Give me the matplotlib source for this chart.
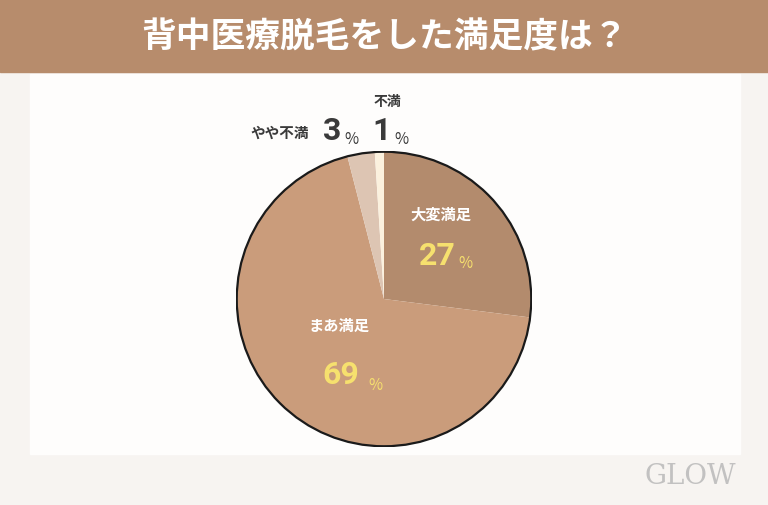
import matplotlib.pyplot as plt
from matplotlib.patches import Rectangle, Circle

plt.rcParams['font.family'] = ['Noto Sans CJK JP', 'DejaVu Sans']

# data
title = '背中医療脱毛をした満足度は？'
labels = ['大変満足', 'まあ満足', 'やや不満', '不満']
values = [27, 69, 3, 1]
colors = ['#b38b6d', '#ca9c7b', '#ddc5b3', '#fbf1de']

W, H = 768, 506
fig = plt.figure(figsize=(W / 100, H / 100), dpi=100)
fig.patch.set_facecolor('#f7f4f1')


def fx(px):
    return px / W


def fy(py):
    return 1 - py / H


# background panel and header band
fig.patches.append(Rectangle((fx(30), fy(455)), fx(710), (455 - 75) / H,
                             transform=fig.transFigure, color='#fefdfc', zorder=-2))
fig.patches.append(Rectangle((0, fy(73)), 1, 73 / H,
                             transform=fig.transFigure, color='#b78c6c', zorder=-1))
fig.text(0.5, fy(37), title, ha='center', va='center', color='white',
         fontsize=25, fontweight='bold')

# pie
cx, cy, r = 384, 300, 148
ax = fig.add_axes([fx(cx - r), fy(cy + r), 2 * r / W, 2 * r / H])
ax.set_zorder(2)
ax.pie(values, colors=colors, startangle=90, counterclock=False,
       wedgeprops=dict(linewidth=0))
ax.add_patch(Circle((0, 0), 1, fill=False, edgecolor='#1a1a1a', linewidth=1.6))
ax.set_xlim(-1.005, 1.005)
ax.set_ylim(-1.005, 1.005)
ax.set_aspect('equal')
ax.axis('off')

num_font = ['Roboto', 'Noto Sans CJK JP']

# labels inside
fig.text(fx(441), fy(215), labels[0], ha='center', va='center', color='white',
         fontsize=11, fontweight='bold', zorder=5)
fig.text(fx(437), fy(256), str(values[0]), ha='center', va='center', color='#f6e06e',
         fontsize=23, fontweight='bold', family=num_font, zorder=5)
fig.text(fx(465), fy(263), '%', ha='center', va='center', color='#f6e06e',
         fontsize=11, zorder=5)

fig.text(fx(339), fy(326), labels[1], ha='center', va='center', color='white',
         fontsize=11, fontweight='bold', zorder=5)
fig.text(fx(341), fy(375), str(values[1]), ha='center', va='center', color='#f6e06e',
         fontsize=23, fontweight='bold', family=num_font, zorder=5)
fig.text(fx(375), fy(385), '%', ha='center', va='center', color='#f6e06e',
         fontsize=11, zorder=5)

# labels outside
dark = '#3a3a3a'
fig.text(fx(280), fy(133), labels[2], ha='center', va='center', color=dark,
         fontsize=10.5, fontweight='bold', zorder=5)
fig.text(fx(332), fy(131), str(values[2]), ha='center', va='center', color=dark,
         fontsize=23, fontweight='bold', family=num_font, zorder=5)
fig.text(fx(351), fy(140), '%', ha='center', va='center', color=dark,
         fontsize=11, zorder=5)

fig.text(fx(387), fy(102), labels[3], ha='center', va='center', color=dark,
         fontsize=10, fontweight='bold', zorder=5)
fig.text(fx(382), fy(131), str(values[3]), ha='center', va='center', color=dark,
         fontsize=23, fontweight='bold', family=num_font, zorder=5)
fig.text(fx(401), fy(140), '%', ha='center', va='center', color=dark,
         fontsize=11, zorder=5)

# watermark
fig.text(fx(690), fy(477), 'GLOW', ha='center', va='center', color='#b5b5b5',
         fontsize=20, family=['DejaVu Serif'], alpha=0.8)

fig.savefig('out.png', dpi=100, facecolor=fig.get_facecolor())
